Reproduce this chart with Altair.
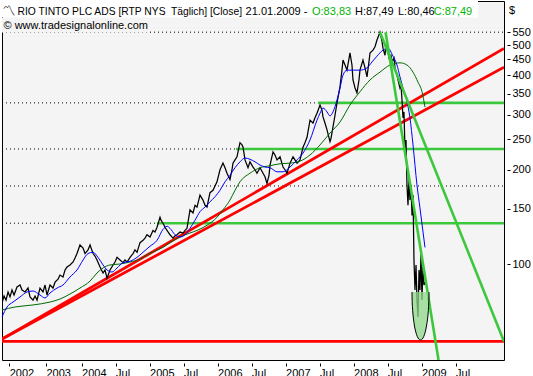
import altair as alt
import pandas as pd

FONT = "Liberation Sans"

# ---------------- data (decimal years / US$) ----------------
price_years = [2002.829, 2002.859, 2002.888, 2002.918, 2002.947, 2002.976, 2003.006, 2003.050, 2003.094, 2003.124,
               2003.168, 2003.212, 2003.241, 2003.285, 2003.315, 2003.344, 2003.388, 2003.432, 2003.462, 2003.491,
               2003.535, 2003.579, 2003.609, 2003.653, 2003.682, 2003.726, 2003.756, 2003.785, 2003.829, 2003.874,
               2003.903, 2003.932, 2003.976, 2004.021, 2004.050, 2004.094, 2004.124, 2004.168, 2004.197, 2004.226,
               2004.271, 2004.315, 2004.344, 2004.374, 2004.418, 2004.462, 2004.491, 2004.521, 2004.565, 2004.609,
               2004.638, 2004.668, 2004.712, 2004.756, 2004.785, 2004.815, 2004.859, 2004.903, 2004.932, 2004.962,
               2005.006, 2005.050, 2005.079, 2005.109, 2005.153, 2005.168, 2005.197, 2005.226, 2005.256, 2005.300,
               2005.344, 2005.374, 2005.403, 2005.447, 2005.491, 2005.521, 2005.550, 2005.594, 2005.638, 2005.668,
               2005.697, 2005.741, 2005.785, 2005.815, 2005.844, 2005.888, 2005.932, 2005.962, 2005.991, 2006.035,
               2006.079, 2006.109, 2006.138, 2006.182, 2006.212, 2006.226, 2006.256, 2006.285, 2006.315, 2006.329,
               2006.359, 2006.374, 2006.403, 2006.432, 2006.447, 2006.476, 2006.521, 2006.550, 2006.579, 2006.624,
               2006.668, 2006.697, 2006.726, 2006.756, 2006.771, 2006.815, 2006.844, 2006.874, 2006.918, 2006.962,
               2006.991, 2007.021, 2007.065, 2007.109, 2007.138, 2007.168, 2007.212, 2007.256, 2007.285, 2007.315,
               2007.359, 2007.403, 2007.432, 2007.462, 2007.506, 2007.535, 2007.550, 2007.579, 2007.609, 2007.653,
               2007.668, 2007.697, 2007.726, 2007.756, 2007.800, 2007.829, 2007.844, 2007.874, 2007.903, 2007.947,
               2007.976, 2007.991, 2008.021, 2008.050, 2008.079, 2008.094, 2008.138, 2008.168, 2008.197, 2008.226,
               2008.241, 2008.285, 2008.315, 2008.344, 2008.388, 2008.418, 2008.432, 2008.462, 2008.476, 2008.506,
               2008.521, 2008.550, 2008.565, 2008.594, 2008.609, 2008.638, 2008.653, 2008.682, 2008.697, 2008.712,
               2008.726, 2008.741, 2008.756, 2008.771, 2008.785, 2008.800, 2008.815, 2008.829, 2008.844, 2008.859,
               2008.874, 2008.888, 2008.903, 2008.918, 2008.932, 2008.947, 2008.962, 2008.976, 2008.991, 2009.006,
               2009.021, 2009.035, 2009.055]
price_close = [75.1, 79.0, 76.7, 81.4, 78.5, 82.6, 79.6, 84.5, 85.7, 82.6,
               81.4, 83.8, 78.5, 76.7, 79.0, 76.7, 83.8, 81.4, 85.7, 79.6,
               85.7, 83.8, 87.5, 89.5, 92.2, 90.9, 95.7, 97.8, 99.3, 101.5,
               104.5, 108, 115, 112.5, 108, 111, 115, 108, 106, 103,
               97.8, 93.6, 95.7, 90.2, 95.7, 99.3, 101.5, 105, 103, 101,
               103, 101.5, 105, 108, 111, 109, 117, 119, 121, 124,
               122, 128, 126.5, 131, 141, 138, 135, 131, 128, 124,
               121, 123, 124, 126.5, 125.6, 128, 130, 149, 145.5, 154,
               152, 166, 160, 154, 152, 169, 172, 177.5, 183, 200,
               210, 203, 195, 186, 200, 210, 215, 220, 236, 244,
               240, 236, 215, 207, 203, 212, 204, 200, 195, 203,
               195, 190, 181, 192, 207, 228, 223, 215, 220, 204,
               200, 195, 210, 220, 215, 210, 215, 236, 244, 254,
               288, 282, 293, 303, 322, 310, 295, 282, 268, 246,
               252, 274, 298, 327, 368, 416, 448, 432, 416, 472,
               432, 387, 365, 352, 387, 416, 448, 423, 396, 442,
               472, 482, 494, 519, 550, 514, 489, 464, 500, 476,
               455, 464, 442, 455, 423, 401, 387, 365, 373, 334,
               293, 306, 231, 249, 179, 154, 188, 160, 179, 143,
               166, 103, 82.6, 99.3, 76.7, 67.7, 95.7, 82.6, 107, 76.7,
               99.3, 85.7, 87.49]

fast_ma_years = [2002.829, 2002.903, 2002.991, 2003.094, 2003.197, 2003.285, 2003.388, 2003.462, 2003.535, 2003.638,
                 2003.726, 2003.829, 2003.932, 2004.021, 2004.094, 2004.168, 2004.241, 2004.315, 2004.374, 2004.447,
                 2004.521, 2004.609, 2004.712, 2004.815, 2004.903, 2005.006, 2005.109, 2005.197, 2005.256, 2005.300,
                 2005.374, 2005.447, 2005.521, 2005.594, 2005.668, 2005.741, 2005.815, 2005.888, 2005.962, 2006.035,
                 2006.109, 2006.182, 2006.256, 2006.329, 2006.403, 2006.476, 2006.550, 2006.624, 2006.697, 2006.771,
                 2006.874, 2006.962, 2007.065, 2007.168, 2007.256, 2007.359, 2007.462, 2007.506, 2007.550, 2007.609,
                 2007.653, 2007.697, 2007.756, 2007.800, 2007.844, 2007.903, 2007.991, 2008.094, 2008.197, 2008.271,
                 2008.344, 2008.432, 2008.506, 2008.579, 2008.638, 2008.682, 2008.726, 2008.785, 2008.829, 2008.874,
                 2008.932, 2008.976, 2009.021, 2009.050]
fast_ma_values = [67.7, 72.9, 75.6, 78.5, 81.4, 82.0, 79.6, 77.9, 80.8, 83.8,
                  85.7, 90.9, 95.7, 103, 108, 109, 105, 99.3, 95.7, 94.3,
                  97.1, 101, 102, 105, 109, 114, 119, 129, 132, 130,
                  124, 122, 124, 130, 138, 147, 152, 158, 164, 172,
                  183, 192, 203, 212, 218, 216, 212, 207, 204, 203,
                  197, 197, 204, 215, 226, 249, 288, 303, 315, 306,
                  297, 306, 334, 365, 401, 416, 416, 416, 423, 442,
                  461, 482, 489, 461, 432, 396, 365, 330, 293, 240,
                  179, 151, 126.5, 113]

slow_ma_years = [2002.829, 2003.021, 2003.285, 2003.535, 2003.682, 2003.829, 2003.976, 2004.124, 2004.226, 2004.315,
                 2004.418, 2004.565, 2004.712, 2004.859, 2004.962, 2005.079, 2005.197, 2005.300, 2005.447, 2005.594,
                 2005.697, 2005.844, 2005.991, 2006.079, 2006.182, 2006.256, 2006.329, 2006.476, 2006.624, 2006.771,
                 2006.918, 2007.065, 2007.212, 2007.359, 2007.506, 2007.653, 2007.800, 2007.947, 2008.094, 2008.241,
                 2008.388, 2008.535, 2008.682, 2008.785, 2008.874, 2008.947, 2009.006, 2009.050]
slow_ma_values = [71.3, 72.9, 74.0, 75.6, 77.3, 80.2, 83.8, 88.2, 93.6, 97.1,
                  99.3, 100, 101.5, 103.7, 107, 110, 113, 117, 122, 125.6,
                  128, 133, 141, 149, 160, 172, 183, 195, 203, 206,
                  209, 210, 213, 223, 240, 262, 284, 322, 355, 387,
                  410, 432, 439, 432, 410, 381, 355, 317]

X_MIN, X_MAX = 2002.829, 2010.212
Y_MIN, Y_MAX = 49.37, 691.7

# red trend lines (rising support lines + horizontal floor)
red_start_years = [2002.829, 2002.829, 2002.829]
red_start_values = [57.6, 57.6, 56.6]
red_end_years = [2010.212, 2010.212, 2010.212]
red_end_values = [488, 425, 56.6]

# green falling trend lines from the 2008 high
green_diag_start_years = [2008.388, 2008.47]
green_diag_start_values = [550, 550]
green_diag_end_years = [2010.212, 2009.249]
green_diag_end_values = [56.6, 49.37]

# green horizontal resistance levels
green_levels = [327, 233, 135]
green_start_years = [2007.476, 2006.271, 2005.109]

# dotted horizontal guide lines
dotted_levels = [550, 177.5, 327, 233, 135]
dotted_start_years = [X_MIN, X_MIN, X_MIN, X_MIN, X_MIN]
dotted_end_years = [X_MAX, X_MAX, 2007.476, 2006.271, 2005.109]

# marked bottom area
ellipse_year = [2008.984]
ellipse_price = [68.2]

tick_years = [2002.935, 2003.475, 2004.0, 2004.5, 2005.0, 2005.5, 2006.0, 2006.5,
              2007.0, 2007.5, 2008.0, 2008.5, 2009.0, 2009.5]
tick_labels = ["2002", "2003", "2004", "Jul", "2005", "Jul", "2006", "Jul",
               "2007", "Jul", "2008", "Jul", "2009", "Jul"]
price_ticks = [100, 150, 200, 250, 300, 350, 400, 450, 500, 550]

# ---------------- chart ----------------
x_scale = alt.Scale(domain=[X_MIN, X_MAX], nice=False, zero=False)
y_scale = alt.Scale(type="log", domain=[Y_MIN, Y_MAX], nice=False)

label_expr = ("[" + ",".join(f"'{l}'" for l in tick_labels) + "][indexof(["
              + ",".join(repr(v) for v in tick_years) + "], datum.value)]")

x_axis = alt.Axis(values=tick_years, tickCount=40, labelExpr=label_expr, orient="bottom", offset=3,
                  tickSize=3, tickColor="black", tickWidth=1, labelAlign="left",
                  labelBaseline="top", labelPadding=1.5, labelFont=FONT,
                  labelFontSize=11, labelColor="black", domain=False, grid=False,
                  title=None, labelOverlap=False, labelFlush=False, labelBound=False)
y_axis = alt.Axis(orient="right", values=price_ticks, tickCount=40, offset=3, tickSize=3,
                  tickColor="black", tickWidth=1, labelPadding=2, labelFont=FONT,
                  labelFontSize=11, labelColor="black", domain=False, grid=False,
                  title=None, labelOverlap=False, labelFlush=False, format="d")

price_df = pd.DataFrame({"year": price_years, "price": price_close})
fast_df = pd.DataFrame({"year": fast_ma_years, "price": fast_ma_values})
slow_df = pd.DataFrame({"year": slow_ma_years, "price": slow_ma_values})
red_df = pd.DataFrame({"x1": red_start_years, "y1": red_start_values,
                       "x2": red_end_years, "y2": red_end_values})
gdiag_df = pd.DataFrame({"x1": green_diag_start_years, "y1": green_diag_start_values,
                         "x2": green_diag_end_years, "y2": green_diag_end_values})
ghor_df = pd.DataFrame({"x1": green_start_years, "x2": [X_MAX] * len(green_levels),
                        "level": green_levels})
dot_df = pd.DataFrame({"x1": dotted_start_years, "x2": dotted_end_years, "level": dotted_levels})
ell_df = pd.DataFrame({"year": ellipse_year, "price": ellipse_price})

GREEN = "#3cc83c"
RED = "#ff0000"


def X(field):
    return alt.X(field, scale=x_scale, title=None)


def Y(field):
    return alt.Y(field, scale=y_scale, title=None)


one = alt.InlineData(values=[{"a": 1}])

dotted = alt.Chart(dot_df).mark_rule(color="black", strokeDash=[1, 3], strokeWidth=1).encode(
    x=alt.X("x1:Q", scale=x_scale, axis=x_axis, title=None),
    x2="x2:Q",
    y=alt.Y("level:Q", scale=y_scale, axis=y_axis, title=None))

title_bg = alt.Chart(one).mark_rect(color="white").encode(
    x=alt.value(0), x2=alt.value(476), y=alt.value(0), y2=alt.value(16.5))
source_bg = alt.Chart(one).mark_rect(color="#f4f4f4").encode(
    x=alt.value(0), x2=alt.value(148), y=alt.value(17), y2=alt.value(31.5))

green_h = alt.Chart(ghor_df).mark_rule(color=GREEN, strokeWidth=2.6).encode(
    x=X("x1:Q"), x2="x2:Q", y=Y("level:Q"))

red_lines = alt.Chart(red_df).mark_rule(color=RED, strokeWidth=2.8, clip=True).encode(
    x=X("x1:Q"), x2="x2:Q", y=Y("y1:Q"), y2="y2:Q")

price_line = alt.Chart(price_df).mark_line(color="black", strokeWidth=1.25, clip=True).encode(
    x=X("year:Q"), y=Y("price:Q"))

slow_line = alt.Chart(slow_df).mark_line(color="#006a00", strokeWidth=1, interpolate="monotone").encode(
    x=X("year:Q"), y=Y("price:Q"))

fast_line = alt.Chart(fast_df).mark_line(color="#0000ff", strokeWidth=1, interpolate="monotone").encode(
    x=X("year:Q"), y=Y("price:Q"))

green_d = alt.Chart(gdiag_df).mark_rule(color=GREEN, strokeWidth=2.6, clip=True).encode(
    x=X("x1:Q"), x2="x2:Q", y=Y("y1:Q"), y2="y2:Q")

ellipse = alt.Chart(ell_df).mark_point(
    shape="M -0.354 -1 A 0.354 2 0 0 0 0.354 -1",
    size=2304, filled=True, fill="#8fd88a", fillOpacity=0.75,
    stroke="black", strokeWidth=1, strokeOpacity=1, opacity=1).encode(
    x=X("year:Q"), y=Y("price:Q"))


def label(text, x, y, color="black", size=11, font=FONT):
    return alt.Chart(alt.InlineData(values=[{"t": text}])).mark_text(
        align="left", baseline="alphabetic", font=font, fontSize=size,
        color=color).encode(x=alt.value(x), y=alt.value(y), text="t:N")


TEXT_GREEN = "#00b400"
TY = 14
texts = [
    label("\u303d", 0.5, 14, size=13, font="Noto Sans CJK JP"),
    label("RIO TINTO PLC ADS [RTP NYS\u00a0 Täglich] [Close]", 15.5, TY, size=10.3),
    label("21.01.2009 -", 243.6, TY),
    label("O:83,83", 310, TY, color=TEXT_GREEN),
    label("H:87,49", 353, TY),
    label("L:80,46", 396, TY),
    label("C:87,49", 431.7, TY, color=TEXT_GREEN),
    label("\u00a9 www.tradesignalonline.com", 1.5, 28),
    label("$", 507, 13),
]

chart = alt.layer(dotted, title_bg, source_bg, green_h, red_lines, price_line, slow_line,
                  fast_line, green_d, ellipse, *texts).properties(
    width=502, height=359,
    autosize=alt.AutoSizeParams(type="none"),
    padding={"left": 2, "top": 1, "right": 29, "bottom": 16},
    background="white",
).configure_view(fill="#f4f4f4", stroke="black", strokeWidth=1)

chart.save("out.html", embed_options={"renderer": "svg", "actions": False})
